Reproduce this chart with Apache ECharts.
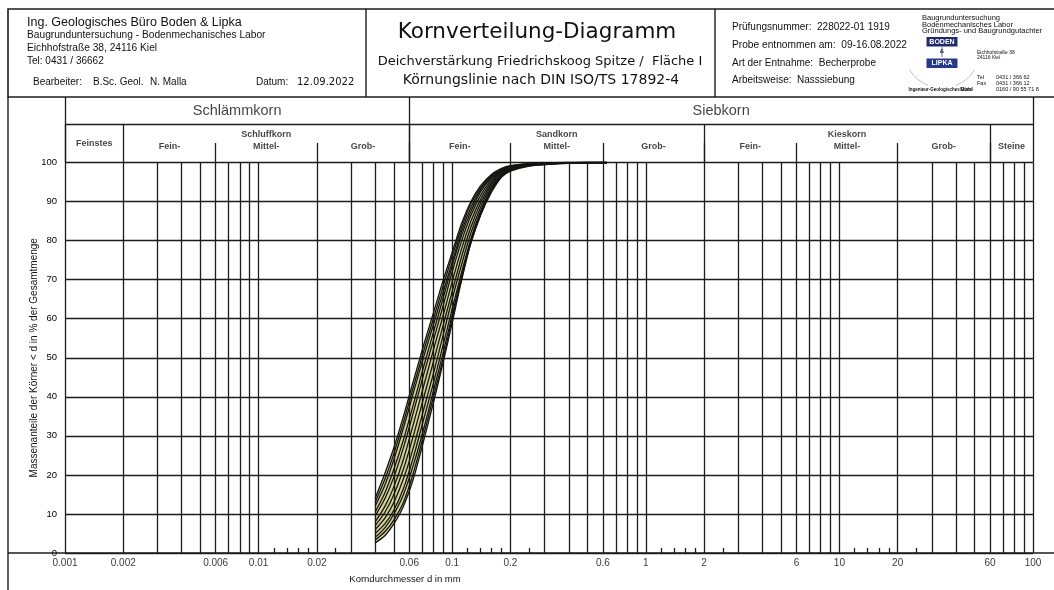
<!DOCTYPE html>
<html><head><meta charset="utf-8">
<script src="https://cdn.jsdelivr.net/npm/echarts/dist/echarts.min.js"></script>
<style>html,body{margin:0;padding:0;background:#fff}#c{width:1054px;height:590px}</style>
</head><body><div id="c"></div>
<script>
// ---- data ----
const sieveSizes = [0.04, 0.045, 0.05, 0.056, 0.063, 0.071, 0.08, 0.09, 0.1, 0.112, 0.125, 0.14, 0.16, 0.18, 0.2, 0.25, 0.315, 0.4, 0.5, 0.63];
const curve01 = [14, 20.5, 27, 35, 44, 53, 61.5, 70, 77, 84.5, 90, 94, 97, 98.5, 99.2, 99.7, 99.9, 100, 100, 100];
const curve02 = [13, 19, 25.5, 33.5, 42.5, 51.5, 60, 68.5, 76, 83.5, 89.5, 93.5, 96.8, 98.3, 99.1, 99.7, 99.9, 100, 100, 100];
const curve03 = [12, 17.5, 24, 32, 41, 50, 58.5, 67, 74.5, 82.5, 88.5, 93, 96.5, 98.2, 99, 99.6, 99.9, 100, 100, 100];
const curve04 = [10.5, 15.5, 21.5, 29, 38, 47.5, 56.5, 65.5, 73.5, 81.5, 87.5, 92.5, 96.2, 98, 98.9, 99.6, 99.8, 100, 100, 100];
const curve05 = [9.5, 14, 19.5, 27, 36, 45.5, 54.5, 63.5, 72, 80, 86.5, 91.5, 95.8, 97.8, 98.8, 99.5, 99.8, 100, 100, 100];
const curve06 = [8, 12, 17, 24, 33, 42.5, 52, 61, 69.5, 78, 85, 90.5, 95.3, 97.6, 98.7, 99.5, 99.8, 99.9, 100, 100];
const curve07 = [7, 10.5, 15, 21.5, 30, 39.5, 49, 58.5, 67, 76, 83.5, 89.5, 94.8, 97.3, 98.5, 99.4, 99.7, 99.9, 100, 100];
const curve08 = [6, 9, 13, 19, 27, 36.5, 46, 56, 65, 74, 82, 88.5, 94.3, 97, 98.3, 99.3, 99.7, 99.9, 100, 100];
const curve09 = [5, 7.5, 11, 16.5, 24.5, 34, 43.5, 53.5, 62.5, 72, 80.5, 87.5, 93.8, 96.8, 98.2, 99.3, 99.7, 99.9, 100, 100];
const curve10 = [4, 6.5, 10, 15, 22.5, 31.5, 41.5, 51.5, 61, 71, 79.5, 86.5, 93.3, 96.6, 98.1, 99.2, 99.6, 99.9, 100, 100];
const curve11 = [3.3, 5.5, 8.5, 13, 20.5, 30, 40, 50, 60, 70.5, 80, 87, 93, 96.5, 98, 99.2, 99.6, 99.9, 100, 100];
const curve12 = [2.6, 4.5, 7.5, 12, 19, 28.5, 38.5, 49, 59, 70, 79.5, 86.5, 92.5, 96.3, 97.8, 99.1, 99.5, 99.8, 100, 100];
const curves = [curve01, curve02, curve03, curve04, curve05, curve06, curve07, curve08, curve09, curve10, curve11, curve12];
const upperEnvelope = curve01;
const lowerEnvelope = curve12;

const yTicks = [0, 10, 20, 30, 40, 50, 60, 70, 80, 90, 100];
const xTickLabels = ['0.001', '0.002', '0.006', '0.01', '0.02', '0.06', '0.1', '0.2', '0.6', '1', '2', '6', '10', '20', '60', '100'];
const gridLinesX = [0.001, 0.002, 0.003, 0.004, 0.005, 0.006, 0.007, 0.008, 0.009,
  0.01, 0.02, 0.03, 0.04, 0.05, 0.06, 0.07, 0.08, 0.09,
  0.1, 0.2, 0.3, 0.4, 0.5, 0.6, 0.7, 0.8, 0.9,
  1, 2, 3, 4, 5, 6, 7, 8, 9,
  10, 20, 30, 40, 50, 60, 70, 80, 90, 100];
const shortTicksX = [0.012, 0.014, 0.016, 0.018, 0.025, 0.12, 0.14, 0.16, 0.18, 0.25,
  1.2, 1.4, 1.6, 1.8, 2.5, 12, 14, 16, 18, 25];

const mainClasses = [['Schlämmkorn', 0.001, 0.06], ['Siebkorn', 0.06, 100]];
const soilClasses = [['Feinstes', 0.001, 0.002], ['Schluffkorn', 0.002, 0.06], ['Sandkorn', 0.06, 2], ['Kieskorn', 2, 60], ['Steine', 60, 100]];
const subClasses = [['Fein-', 0.002, 0.006], ['Mittel-', 0.006, 0.02], ['Grob-', 0.02, 0.06],
  ['Fein-', 0.06, 0.2], ['Mittel-', 0.2, 0.6], ['Grob-', 0.6, 2],
  ['Fein-', 2, 6], ['Mittel-', 6, 20], ['Grob-', 20, 60]];
const undividedClasses = ['Feinstes', 'Steine'];

// ---- layout ----
const FONT = '"Liberation Sans", Arial, sans-serif';
const VFONT = '"DejaVu Sans", Verdana, sans-serif';
const LINE = '#1c1c1c';
const HDR_H = 65.5, ROW2 = 38.5, SUB = 19.5;

const gm = (a, b) => Math.sqrt(a * b);
const lbl = (text, x, y, size, weight) => ({
  value: [x, y],
  label: { show: true, position: 'inside', formatter: text, fontSize: size, fontWeight: weight || 'normal', color: '#111', fontFamily: FONT }
});

const headerLabels = [];
mainClasses.forEach(c => headerLabels.push(lbl(c[0], gm(c[1], c[2]), 52, 14.5, 'normal')));
soilClasses.forEach(c => {
  const und = undividedClasses.indexOf(c[0]) >= 0;
  headerLabels.push(lbl(c[0], gm(c[1], c[2]), und ? (c[0] === 'Feinstes' ? 18.5 : 16) : 27.5, 9, 'bold'));
});
subClasses.forEach(c => headerLabels.push(lbl(c[0], gm(c[1], c[2]), 15.5, 9, 'bold')));

const vSeg = (x, y0, y1) => [{ coord: [x, y0] }, { coord: [x, y1] }];
const hSeg = (y, x0, x1) => [{ coord: [x0, y] }, { coord: [x1, y] }];

const headerLines = [];
mainClasses.forEach(c => headerLines.push(vSeg(c[1], 0, HDR_H)));
headerLines.push(vSeg(100, 0, HDR_H));
soilClasses.forEach(c => headerLines.push(vSeg(c[1], 0, ROW2)));
subClasses.forEach(c => headerLines.push(vSeg(c[2], 0, SUB)));
headerLines.push(hSeg(ROW2, 0.001, 100));

const mainLines = gridLinesX.map(v => vSeg(v, 0, 100))
  .concat(yTicks.map(v => hSeg(v, 0.001, 100)))
  .concat(shortTicksX.map(v => vSeg(v, 0, 1.3)));

const markLineBase = { silent: true, symbol: ['none', 'none'], label: { show: false }, animation: false, emphasis: { disabled: true } };

const series = [];
// fill band between the outer curves
series.push({
  type: 'custom', xAxisIndex: 0, yAxisIndex: 0, z: 2, silent: true,
  data: [[sieveSizes[0], lowerEnvelope[0]]],
  renderItem: function (params, api) {
    const up = sieveSizes.map((d, i) => api.coord([d, upperEnvelope[i]]));
    const lo = sieveSizes.map((d, i) => api.coord([d, lowerEnvelope[i]])).reverse();
    return { type: 'polygon', shape: { points: up.concat(lo), smooth: 0 }, style: { fill: '#d4d296', stroke: '#d4d296', lineWidth: 1 } };
  }
});
// grid lines of main plot
series.push({
  type: 'line', xAxisIndex: 0, yAxisIndex: 0, data: [[0.001, 0]], symbol: 'none', lineStyle: { opacity: 0 }, clip: false, silent: true, z: 3,
  markLine: Object.assign({}, markLineBase, { lineStyle: { color: LINE, width: 1.3, type: 'solid' }, data: mainLines })
});
// header table lines
series.push({
  type: 'line', xAxisIndex: 1, yAxisIndex: 1, data: [[0.001, 0]], symbol: 'none', lineStyle: { opacity: 0 }, clip: false, silent: true,
  markLine: Object.assign({}, markLineBase, { lineStyle: { color: LINE, width: 1.3, type: 'solid' }, data: headerLines })
});
// header texts
series.push({
  type: 'scatter', xAxisIndex: 1, yAxisIndex: 1, symbolSize: 1, itemStyle: { color: 'rgba(0,0,0,0)' }, silent: true, data: headerLabels
});
// curves
curves.forEach((c, k) => series.push({
  type: 'line', name: 'Probe ' + (k + 1), xAxisIndex: 0, yAxisIndex: 0, z: 6, silent: true,
  data: sieveSizes.map((d, i) => [d, c[i]]), smooth: 0.3, symbol: 'none',
  lineStyle: { color: '#141414', width: 1.3 }
}));
// x tick labels
series.push({
  type: 'scatter', xAxisIndex: 0, yAxisIndex: 0, symbolSize: 1, itemStyle: { color: 'rgba(0,0,0,0)' }, silent: true, clip: false,
  data: xTickLabels.map(s => ({ value: [parseFloat(s), 0], label: { show: true, position: 'bottom', distance: 5, formatter: s, fontSize: 10, color: '#000', fontFamily: FONT } }))
});

const T = (x, y, text, size, opts) => ({
  type: 'text', silent: true,
  style: Object.assign({ x: x, y: y, text: text, fontSize: size, fontFamily: FONT, fill: '#111', align: 'left', verticalAlign: 'middle' }, opts || {})
});
const L = (x1, y1, x2, y2, w) => ({ type: 'line', silent: true, shape: { x1, y1, x2, y2 }, style: { stroke: LINE, lineWidth: w || 1.4 } });

const graphic = [
  { type: 'rect', silent: true, shape: { x: 8, y: 9, width: 1100, height: 88 }, style: { fill: 'none', stroke: LINE, lineWidth: 1.6 } },
  L(366, 9, 366, 97), L(715, 9, 715, 97),
  L(8, 97, 8, 592), L(8, 553, 1054, 553, 1.5),
  T(27, 23, 'Ing. Geologisches Büro Boden & Lipka', 12.5),
  T(27, 35.5, 'Baugrunduntersuchung - Bodenmechanisches Labor', 10.2),
  T(27, 48.5, 'Eichhofstraße 38, 24116 Kiel', 10.2),
  T(27, 61, 'Tel: 0431 / 36662', 10),
  T(33, 82, 'Bearbeiter:', 10), T(93, 82, 'B.Sc. Geol.', 10), T(150, 82, 'N. Malla', 10),
  T(256, 82, 'Datum:', 10), T(297, 82, '12.09.2022', 10, { fontFamily: VFONT }),
  T(537, 32, 'Kornverteilung-Diagramm', 21.5, { align: 'center', fontFamily: VFONT }),
  T(540, 62, 'Deichverstärkung Friedrichskoog Spitze /  Fläche I', 13, { align: 'center', fontFamily: VFONT }),
  T(541, 80, 'Körnungslinie nach DIN ISO/TS 17892-4', 14, { align: 'center', fontFamily: VFONT }),
  T(732, 27, 'Prüfungsnummer:  228022-01 1919', 10),
  T(732, 45, 'Probe entnommen am:  09-16.08.2022', 10.2),
  T(732, 63, 'Art der Entnahme:  Becherprobe', 10),
  T(732, 80, 'Arbeitsweise:  Nasssiebung', 10),
  T(922, 17.5, 'Baugrunduntersuchung', 7.5),
  T(922, 24.5, 'Bodenmechanisches Labor', 7.5),
  T(922, 31, 'Gründungs- und Baugrundgutachter', 7.5),
  { type: 'arc', silent: true, shape: { cx: 942, cy: 50, r: 38, startAngle: 0.55, endAngle: 1.2 }, style: { stroke: '#aab0c0', fill: 'none', lineWidth: 0.8 } },
  { type: 'arc', silent: true, shape: { cx: 942, cy: 50, r: 38, startAngle: 1.95, endAngle: 2.6 }, style: { stroke: '#aab0c0', fill: 'none', lineWidth: 0.8 } },
  { type: 'rect', silent: true, shape: { x: 926.5, y: 37, width: 31, height: 9.5 }, style: { fill: '#1e2b6d' } },
  T(942, 42, 'BODEN', 7, { align: 'center', fill: '#fff', fontWeight: 'bold' }),
  T(942, 51.5, '&', 6, { align: 'center', fill: '#1e2b6d', fontWeight: 'bold' }),
  L(942, 47, 942, 57, 0.6),
  { type: 'rect', silent: true, shape: { x: 926.5, y: 58.5, width: 31, height: 9.5 }, style: { fill: '#26378c' } },
  T(942, 63.5, 'LIPKA', 7, { align: 'center', fill: '#fff', fontWeight: 'bold' }),
  T(940, 89.5, 'Ingenieur-Geologisches Büro', 4.5, { align: 'center', fontWeight: 'bold' }),
  T(977, 53, 'Eichhofstraße 38', 5),
  T(977, 58, '24116 Kiel', 5),
  T(977, 77, 'Tel', 5.5), T(996, 77, '0431 / 366 62', 5.5),
  T(977, 83, 'Fax', 5.5), T(996, 83, '0431 / 366 12', 5.5),
  T(960, 89.5, 'Mobil', 5.5), T(996, 89.5, '0160 / 90 55 71 8', 5.5),
  T(405, 579, 'Korndurchmesser d in mm', 9.5, { align: 'center' })
];

const hiddenLog = (gi) => ({ type: 'log', logBase: 10, min: 0.001, max: 100, gridIndex: gi,
  axisLine: { show: false }, axisTick: { show: false }, axisLabel: { show: false }, splitLine: { show: false }, minorSplitLine: { show: false } });

const option = {
  animation: false,
  backgroundColor: '#fff',
  textStyle: { fontFamily: FONT },
  grid: [
    { left: 65, right: 21, top: 162.5, bottom: 37 },
    { left: 65, right: 21, top: 97, bottom: 427.5 }
  ],
  xAxis: [hiddenLog(0), hiddenLog(1)],
  yAxis: [
    { type: 'value', min: 0, max: 100, interval: 10, gridIndex: 0,
      axisLine: { show: false }, axisTick: { show: false }, splitLine: { show: false },
      axisLabel: { fontSize: 9.5, color: '#000', margin: 8, padding: [0, 0, 7, 0], fontFamily: FONT },
      name: 'Massenanteile der Körner < d in % der Gesamtmenge', nameLocation: 'middle', nameGap: 26, nameMoveOverlap: false,
      nameTextStyle: { fontSize: 10, color: '#111', fontFamily: FONT } },
    { type: 'value', min: 0, max: HDR_H, gridIndex: 1, show: false }
  ],
  series: series,
  graphic: graphic
};
const chart = echarts.init(document.getElementById('c'), null, { renderer: 'canvas' });
chart.setOption(option);
</script>
</body></html>
